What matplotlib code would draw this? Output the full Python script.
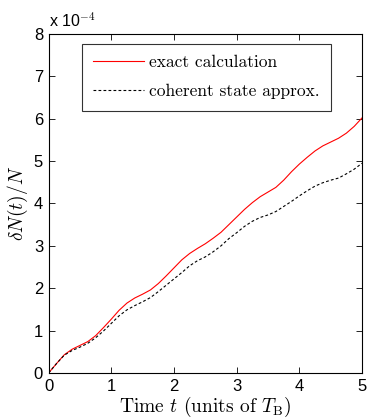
import matplotlib
matplotlib.use("Agg")
import matplotlib.pyplot as plt

plt.rcParams['mathtext.fontset'] = 'cm'
plt.rcParams['axes.unicode_minus'] = False

# time in units of T_B
t = [0, 0.125, 0.25, 0.375, 0.5, 0.625, 0.75, 0.875, 1.0, 1.125, 1.25,
     1.375, 1.5, 1.625, 1.75, 1.875, 2.0, 2.125, 2.25, 2.375, 2.5,
     2.625, 2.75, 2.875, 3.0, 3.125, 3.25, 3.375, 3.5, 3.625, 3.75,
     3.875, 4.0, 4.125, 4.25, 4.375, 4.5, 4.625, 4.75, 4.875, 5.0]
# dN/N in units of 1e-4
exact = [0, 0.22, 0.43, 0.56, 0.65, 0.74, 0.88, 1.07, 1.27, 1.48, 1.65,
         1.77, 1.86, 1.96, 2.11, 2.29, 2.48, 2.67, 2.82, 2.94, 3.05,
         3.18, 3.32, 3.50, 3.68, 3.86, 4.02, 4.16, 4.27, 4.38, 4.55,
         4.75, 4.93, 5.09, 5.24, 5.36, 5.45, 5.54, 5.66, 5.82, 6.02]
coherent = [0, 0.22, 0.42, 0.53, 0.61, 0.70, 0.83, 0.99, 1.17, 1.35, 1.49,
            1.59, 1.68, 1.78, 1.92, 2.07, 2.22, 2.37, 2.53, 2.65, 2.74,
            2.86, 3.00, 3.17, 3.31, 3.46, 3.58, 3.67, 3.73, 3.81, 3.93,
            4.05, 4.18, 4.30, 4.41, 4.49, 4.55, 4.60, 4.70, 4.81, 4.95]

serif = {'family': 'cmr10', 'size': 12.5}

fig = plt.figure(figsize=(3.74, 4.2), dpi=100)
ax = fig.add_axes([0.13, 0.112, 0.838, 0.807])

ax.plot(t, exact, color='#ff0000', lw=0.8, label='exact calculation')
ax.plot(t, coherent, color='black', lw=0.8, ls=(0, (2.5, 2)), label='coherent state approx.')

ax.set_xlim(0, 5)
ax.set_ylim(0, 8)
ax.set_xticks(range(0, 6))
ax.set_yticks(range(0, 9))
ax.tick_params(direction='in', top=True, right=True, length=4, width=0.6,
               labelsize=12, pad=4)
for lab in ax.get_xticklabels() + ax.get_yticklabels():
    lab.set_family('Liberation Sans')
for s in ax.spines.values():
    s.set_linewidth(0.8)

ax.text(0.0, 1.012, r'x 10$^{-4}$', transform=ax.transAxes, fontsize=11.5,
        family='Liberation Sans', ha='left', va='bottom')

ax.set_xlabel(r'Time $t$ (units of $T_{\rm B}$)', fontdict={'family': 'cmr10'},
              fontsize=14, labelpad=1)
ax.set_ylabel(r'$\delta N(t)/N$', fontsize=14, labelpad=3)

leg = ax.legend(loc='upper left', bbox_to_anchor=(0.107, 0.972), prop=serif,
                frameon=True, fancybox=False, edgecolor='black', borderpad=0.65,
                borderaxespad=0, handlelength=2.9, labelspacing=0.8,
                handletextpad=0.3)
leg.get_frame().set_linewidth(0.8)

fig.savefig('out.png', dpi=100)
